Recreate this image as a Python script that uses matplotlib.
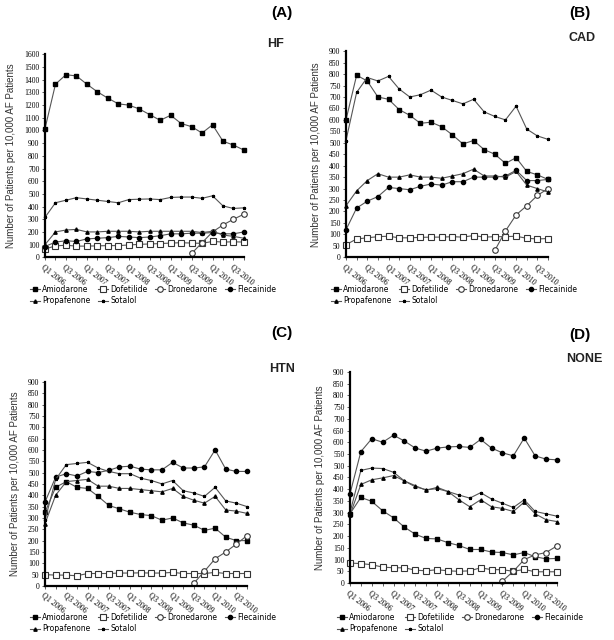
import numpy as np
import matplotlib
matplotlib.use("Agg")
import matplotlib.pyplot as plt

# quarters Q1 2006 .. Q4 2010, labels every other quarter
quarters = ["Q%d %d" % (q, y) for y in range(2006, 2011) for q in range(1, 5)]
drug_names = ["Amiodarone", "Dofetilide", "Dronedarone", "Flecainide", "Propafenone", "Sotalol"]
drone_start = 14  # Dronedarone appears in Q3 2009

# (A) HF
hf_amio = [1015, 1365, 1440, 1430, 1365, 1305, 1255, 1210, 1200, 1170, 1125, 1080, 1120, 1055, 1030, 980, 1045, 915, 885, 845]
hf_dofe = [65, 90, 95, 88, 88, 90, 92, 92, 97, 102, 105, 108, 112, 115, 112, 110, 125, 120, 122, 120]
hf_drone = [30, 115, 200, 255, 300, 340]
hf_flec = [85, 120, 130, 125, 145, 150, 155, 165, 160, 155, 160, 170, 185, 185, 190, 190, 195, 185, 185, 200]
hf_prop = [100, 200, 215, 220, 200, 200, 205, 205, 205, 200, 205, 205, 205, 205, 205, 195, 205, 175, 165, 150]
hf_sota = [315, 430, 450, 470, 460, 450, 440, 430, 455, 458, 460, 455, 472, 475, 475, 465, 485, 405, 385, 390]

# (B) CAD
cad_amio = [600, 795, 770, 700, 690, 645, 620, 585, 590, 570, 535, 495, 510, 470, 450, 410, 435, 375, 360, 340]
cad_dofe = [55, 80, 85, 90, 92, 85, 85, 87, 88, 88, 90, 88, 95, 88, 90, 90, 92, 83, 80, 82]
cad_drone = [30, 115, 185, 225, 270, 300]
cad_flec = [120, 215, 245, 265, 305, 300, 295, 310, 320, 315, 330, 330, 350, 350, 350, 355, 380, 335, 335, 340]
cad_prop = [225, 290, 335, 365, 350, 350, 360, 350, 350, 345, 355, 365, 385, 355, 355, 350, 375, 315, 300, 285]
cad_sota = [510, 720, 785, 770, 790, 735, 700, 710, 730, 700, 685, 670, 690, 635, 615, 600, 660, 560, 530, 515]

# (C) HTN
htn_amio = [325, 435, 460, 435, 430, 395, 355, 340, 325, 315, 310, 290, 300, 278, 268, 245, 255, 215, 200, 200]
htn_dofe = [50, 48, 48, 45, 55, 55, 55, 57, 57, 58, 57, 57, 60, 55, 55, 55, 60, 55, 55, 55]
htn_drone = [12, 65, 120, 150, 185, 222]
htn_flec = [370, 480, 495, 485, 505, 500, 510, 525, 528, 515, 512, 512, 545, 520, 520, 525, 600, 515, 505, 505]
htn_prop = [275, 400, 460, 465, 470, 440, 440, 430, 430, 425, 420, 415, 430, 395, 378, 365, 395, 335, 330, 320]
htn_sota = [290, 470, 535, 540, 545, 520, 505, 495, 495, 475, 465, 450, 465, 420, 410, 395, 435, 375, 365, 350]

# (D) NONE
none_amio = [295, 365, 348, 308, 278, 238, 208, 190, 188, 172, 160, 143, 143, 132, 130, 120, 130, 112, 103, 105]
none_dofe = [85, 83, 78, 68, 65, 65, 55, 52, 57, 52, 50, 52, 65, 57, 57, 50, 58, 48, 48, 48]
none_drone = [8, 50, 100, 120, 130, 158]
none_flec = [380, 560, 615, 600, 630, 605, 575, 562, 575, 580, 582, 578, 612, 575, 555, 542, 618, 542, 528, 525]
none_prop = [290, 420, 440, 448, 458, 435, 415, 395, 408, 390, 355, 325, 355, 325, 318, 305, 345, 295, 270, 262]
none_sota = [300, 480, 490, 488, 472, 435, 410, 398, 402, 390, 375, 362, 385, 358, 340, 322, 355, 305, 295, 285]

panels = [
    ("(A)", "HF", [hf_amio, hf_dofe, hf_drone, hf_flec, hf_prop, hf_sota], 1600, 100),
    ("(B)", "CAD", [cad_amio, cad_dofe, cad_drone, cad_flec, cad_prop, cad_sota], 900, 50),
    ("(C)", "HTN", [htn_amio, htn_dofe, htn_drone, htn_flec, htn_prop, htn_sota], 900, 50),
    ("(D)", "NONE", [none_amio, none_dofe, none_drone, none_flec, none_prop, none_sota], 900, 50),
]

# axes rectangles in figure fractions, plus letter / title / legend positions (pixels)
rects = [
    [0.0733, 0.598, 0.324, 0.317],
    [0.5635, 0.598, 0.329, 0.322],
    [0.0733, 0.0844, 0.329, 0.319],
    [0.570, 0.089, 0.337, 0.330],
]
letter_pos = [(282, 13), (580, 13), (282, 333), (580, 335)]
title_pos = [(275, 44), (582, 38), (282, 369), (584, 359)]
legend_pos = [(30, 285), (331, 285), (30, 613), (337, 613)]

styles = [
    dict(marker="s", ms=3.2, mfc="black", mec="black"),
    dict(marker="s", ms=4.0, mfc="white", mec="#333333", mew=0.8),
    dict(marker="o", ms=4.0, mfc="white", mec="#333333", mew=0.8),
    dict(marker="o", ms=3.0, mfc="black", mec="black"),
    dict(marker="^", ms=2.4, mfc="black", mec="black"),
    dict(marker="*", ms=2.2, mfc="black", mec="black"),
]

W, H = 614, 640
fig = plt.figure(figsize=(W / 100, H / 100), dpi=100)
x = np.arange(len(quarters))

for (letter, name, series, ymax, ystep), rect, lp, tp, gp in zip(panels, rects, letter_pos, title_pos, legend_pos):
    ax = fig.add_axes(rect)
    handles = []
    for i, (vals, st) in enumerate(zip(series, styles)):
        xs = x[drone_start:] if i == 2 else x
        h, = ax.plot(xs, vals, color="#555555", lw=0.8, label=drug_names[i], clip_on=False, **st)
        handles.append(h)
    ax.set_xlim(0, len(quarters) - 1)
    ax.set_ylim(0, ymax)
    ax.set_yticks(np.arange(0, ymax + 1, ystep))
    ax.set_xticks(x)
    ax.set_xticklabels([q if i % 2 == 0 else "" for i, q in enumerate(quarters)],
                       rotation=-38, ha="left", va="top", rotation_mode="anchor",
                       fontsize=5.8, family="Liberation Serif")
    for t in ax.get_yticklabels():
        t.set_family("Liberation Serif")
        t.set_fontsize(5.5)
    ax.tick_params(axis="both", length=2.5, width=0.6, pad=1.5, color="#444444")
    ax.spines["top"].set_visible(False)
    ax.spines["right"].set_visible(False)
    ax.spines["left"].set_linewidth(1.6)
    ax.spines["bottom"].set_linewidth(1.6)
    ax.set_ylabel("Number of Patients per 10,000 AF Patients", fontsize=7,
                  family="Liberation Sans", color="#333333", labelpad=6)

    fig.text(lp[0] / W, 1 - lp[1] / H, letter, fontsize=11, fontweight="bold",
             family="Liberation Sans", ha="center", va="center")
    fig.text(tp[0] / W, 1 - tp[1] / H, name, fontsize=9, fontweight="bold",
             family="Liberation Sans", ha="center", va="center", color="#222222")

    order = [0, 4, 1, 5, 2, 3]
    ax.legend([handles[k] for k in order], [drug_names[k] for k in order],
              loc="upper left", bbox_to_anchor=(gp[0] / W, 1 - gp[1] / H),
              bbox_transform=fig.transFigure, ncol=4, frameon=False,
              fontsize=5.5, handlelength=1.3, handletextpad=0.3,
              columnspacing=1.0, labelspacing=0.3, borderpad=0, borderaxespad=0)

plt.savefig("out.png", dpi=100)
